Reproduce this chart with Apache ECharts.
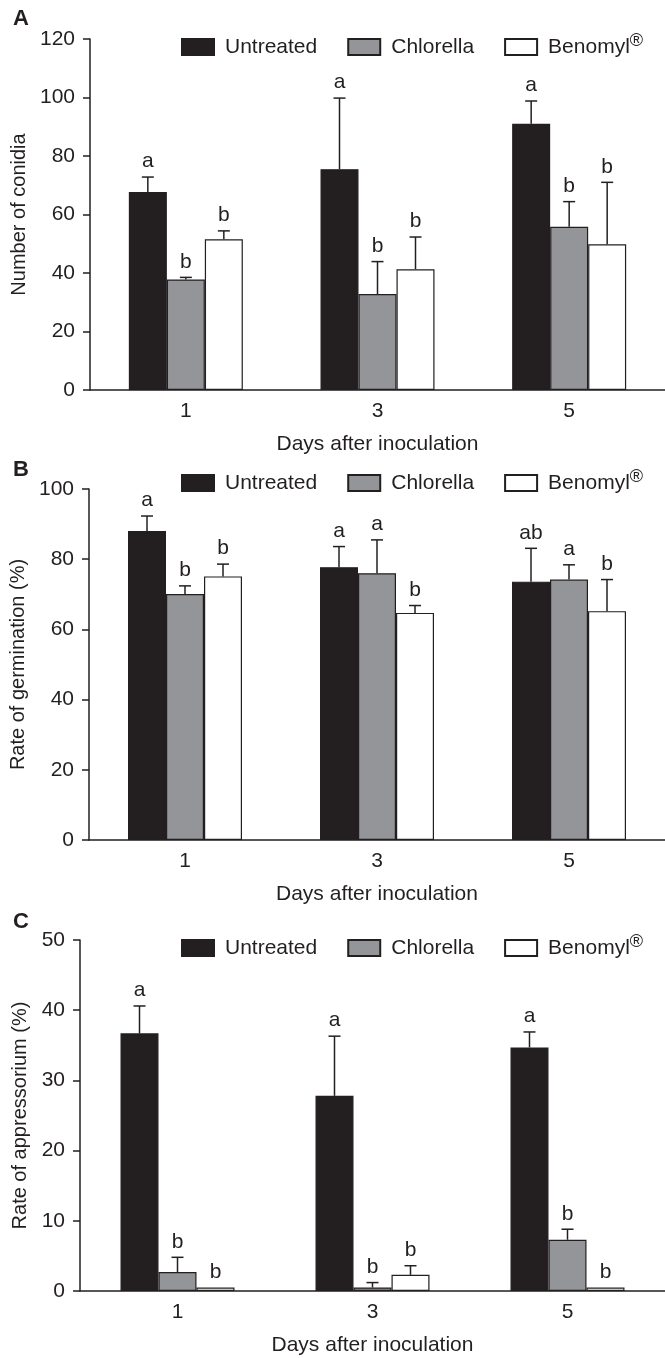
<!DOCTYPE html>
<html>
<head>
<meta charset="utf-8">
<script src="https://cdn.jsdelivr.net/npm/echarts@6/dist/echarts.min.js"></script>
<style>
  html, body { margin: 0; padding: 0; background: #fff; }
  #chart { width: 665px; height: 1358px; }
</style>
</head>
<body>
<div id="chart"></div>
<script>
// data
const days = ['1', '3', '5'];
const seriesNames = ['Untreated', 'Chlorella', 'Benomyl'];

// A - number of conidia
const conidiaUntreated = [67.7, 75.5, 91.0];
const conidiaChlorella = [37.8, 32.8, 55.8];
const conidiaBenomyl = [51.5, 41.3, 49.8];
const conidiaUntreatedErr = [5.1, 24.3, 7.8];
const conidiaChlorellaErr = [0.7, 11.1, 8.6];
const conidiaBenomylErr = [2.9, 11.0, 21.2];
const conidiaLetters = [['a', 'a', 'a'], ['b', 'b', 'b'], ['b', 'b', 'b']];

// B - rate of germination
const germUntreated = [88.0, 77.7, 73.6];
const germChlorella = [70.1, 76.0, 74.2];
const germBenomyl = [75.1, 64.7, 65.2];
const germUntreatedErr = [4.3, 5.9, 9.5];
const germChlorellaErr = [2.3, 9.5, 4.2];
const germBenomylErr = [3.5, 2.1, 9.0];
const germLetters = [['a', 'a', 'ab'], ['b', 'a', 'a'], ['b', 'b', 'b']];

// C - rate of appressorium
const appUntreated = [36.7, 27.8, 34.7];
const appChlorella = [2.7, 0.5, 7.3];
const appBenomyl = [0.5, 2.3, 0.5];
const appUntreatedErr = [3.9, 8.5, 2.2];
const appChlorellaErr = [2.1, 0.7, 1.5];
const appBenomylErr = [0, 1.3, 0];
const appLetters = [['a', 'a', 'a'], ['b', 'b', 'b'], ['b', 'b', 'b']];

const ink = '#231f20';
const font = "'Liberation Sans', Arial, sans-serif";
const barColors = [ink, '#939598', '#ffffff'];
const barW = 38;

const chart = echarts.init(document.getElementById('chart'), null, { renderer: 'canvas' });

const panels = [
  { letter: 'A', yName: 'Number of conidia', max: 120, interval: 20, grid: { left: 90, top: 39, width: 576, height: 351 }, nameGap: 52,
    vals: [conidiaUntreated, conidiaChlorella, conidiaBenomyl], errs: [conidiaUntreatedErr, conidiaChlorellaErr, conidiaBenomylErr], letters: conidiaLetters, legendTop: 27, titleTop: 3 },
  { letter: 'B', yName: 'Rate of germination (%)', max: 100, interval: 20, grid: { left: 89, top: 489, width: 576, height: 351 }, nameGap: 52,
    vals: [germUntreated, germChlorella, germBenomyl], errs: [germUntreatedErr, germChlorellaErr, germBenomylErr], letters: germLetters, legendTop: 463, titleTop: 454 },
  { letter: 'C', yName: 'Rate of appressorium (%)', max: 50, interval: 10, grid: { left: 80, top: 940, width: 585, height: 351 }, nameGap: 47,
    vals: [appUntreated, appChlorella, appBenomyl], errs: [appUntreatedErr, appChlorellaErr, appBenomylErr], letters: appLetters, legendTop: 928, titleTop: 906 }
];

function errorRenderer(errs, letters, k) {
  return function (params, api) {
    const i = params.dataIndex;
    const base = api.coord([api.value(0), api.value(1)]);
    const top = api.coord([api.value(0), api.value(1) + errs[i]]);
    const x = base[0] + (k - 1) * barW;
    const children = [];
    if (errs[i] > 0) {
      children.push({ type: 'line', shape: { x1: x, y1: base[1], x2: x, y2: top[1] }, style: { stroke: ink, lineWidth: 1.5 } });
      children.push({ type: 'line', shape: { x1: x - 6, y1: top[1], x2: x + 6, y2: top[1] }, style: { stroke: ink, lineWidth: 1.5 } });
    }
    children.push({ type: 'text', x: x, y: top[1] - 5, style: { text: letters[i], fill: ink, font: '21px ' + font, align: 'center', verticalAlign: 'bottom' } });
    return { type: 'group', children: children };
  };
}

const option = {
  animation: false,
  backgroundColor: '#fff',
  textStyle: { fontFamily: font, color: ink },
  title: [], legend: [], grid: [], xAxis: [], yAxis: [], series: []
};

panels.forEach(function (p, g) {
  option.title.push({ text: p.letter, left: 8, top: p.titleTop, textStyle: { fontFamily: font, fontSize: 22, fontWeight: 'bold', color: ink } });
  option.legend.push({
    data: seriesNames, left: 176, top: p.legendTop, itemWidth: 32, itemHeight: 16, itemGap: 30, icon: 'rect',
    selectedMode: false,
    formatter: function (name) { return name === 'Benomyl' ? 'Benomyl{r|®}' : name; },
    textStyle: { fontFamily: font, fontSize: 21, color: ink, padding: [0, 0, 0, 6],
      rich: { r: { fontFamily: font, fontSize: 18, color: ink, padding: [0, 0, 12, 0] } } }
  });
  option.grid.push(p.grid);
  option.xAxis.push({
    type: 'category', gridIndex: g, data: days,
    name: 'Days after inoculation', nameLocation: 'middle', nameGap: 44,
    nameTextStyle: { fontFamily: font, fontSize: 21, color: ink },
    axisLine: { lineStyle: { color: ink, width: 1.5 } },
    axisTick: { length: 7, lineStyle: { color: ink, width: 1.5 } },
    axisLabel: { fontFamily: font, fontSize: 21, color: ink, margin: 11 }
  });
  option.yAxis.push({
    type: 'value', gridIndex: g, min: 0, max: p.max, interval: p.interval,
    name: p.yName, nameLocation: 'middle', nameGap: p.nameGap, nameRotate: 90,
    nameTextStyle: { fontFamily: font, fontSize: 20, color: ink },
    axisLine: { show: true, lineStyle: { color: ink, width: 1.5 } },
    axisTick: { show: true, length: 7, lineStyle: { color: ink, width: 1.5 } },
    axisLabel: { fontFamily: font, fontSize: 21, color: ink, margin: 15 },
    splitLine: { show: false }
  });
  seriesNames.forEach(function (name, k) {
    option.series.push({
      name: name, type: 'bar', xAxisIndex: g, yAxisIndex: g,
      data: p.vals[k], barWidth: barW, barGap: '0%',
      itemStyle: { color: barColors[k], borderColor: ink, borderWidth: 1.2 }
    });
  });
  seriesNames.forEach(function (name, k) {
    option.series.push({
      type: 'custom', xAxisIndex: g, yAxisIndex: g, z: 5,
      data: p.vals[k].map(function (v, i) { return [i, v]; }),
      renderItem: errorRenderer(p.errs[k], p.letters[k], k)
    });
  });
});

chart.setOption(option);
</script>
</body>
</html>
